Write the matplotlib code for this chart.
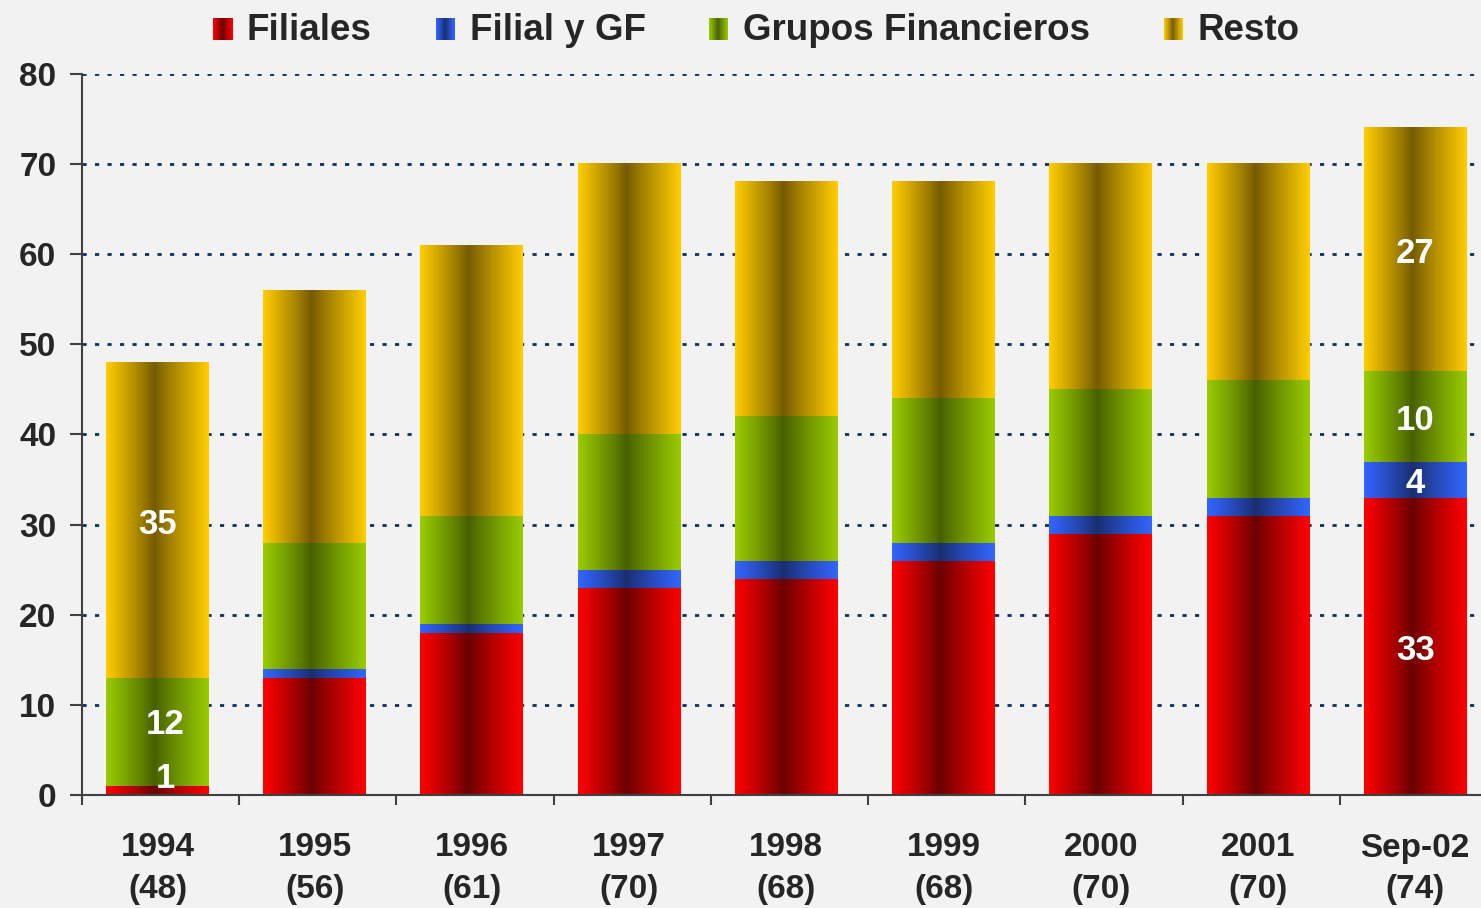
import numpy as np
import matplotlib
matplotlib.use('Agg')
import matplotlib.pyplot as plt
from matplotlib.colors import to_rgb

plt.rcParams['font.family'] = ['Liberation Sans', 'DejaVu Sans']
plt.rcParams['font.weight'] = 'bold'

# datos
anios = ['1994', '1995', '1996', '1997', '1998', '1999', '2000', '2001', 'Sep-02']
filiales = [1, 13, 18, 23, 24, 26, 29, 31, 33]
filial_gf = [0, 1, 1, 2, 2, 2, 2, 2, 4]
grupos = [12, 14, 12, 15, 16, 16, 14, 13, 10]
resto = [35, 28, 30, 30, 26, 24, 25, 24, 27]

nombres = ['Filiales', 'Filial y GF', 'Grupos Financieros', 'Resto']
valores = [filiales, filial_gf, grupos, resto]
# (color del borde, color del centro)
colores = [('#ff0000', '#6a0000'),
           ('#3366ff', '#1a2d6e'),
           ('#99cc00', '#465f00'),
           ('#ffcc00', '#735a00')]

fondo = '#f2f2f2'
gris = '#262626'


def degradado(borde, centro, n=80):
    t = np.linspace(0, 1, n)
    c0 = 0.47
    d = np.where(t < c0, (c0 - t) / c0, (t - c0) / (1 - c0))
    b = np.array(to_rgb(borde))
    c = np.array(to_rgb(centro))
    img = c + (b - c) * d[:, None] ** 0.9
    return img[None, :, :]


fig = plt.figure(figsize=(14.81, 9.08), dpi=100, facecolor=fondo)
ax = fig.add_axes([82 / 1481, 113 / 908, 1415 / 1481, 721 / 908])
ax.set_facecolor(fondo)

x = np.arange(len(anios)) - 0.02
base = np.zeros(len(anios))
barras = []
for nombre, vals, (cb, cc) in zip(nombres, valores, colores):
    b = ax.bar(x, vals, width=0.655, bottom=base, color='none', edgecolor='none', zorder=2)
    img = degradado(cb, cc)
    for p in b.patches:
        if p.get_height() <= 0:
            continue
        x0, y0 = p.get_xy()
        ax.imshow(img, extent=[x0, x0 + p.get_width(), y0, y0 + p.get_height()],
                  aspect='auto', interpolation='bilinear', zorder=2)
    barras.append((b, base.copy()))
    base = base + np.array(vals)

totales = base.astype(int)

ax.set_xlim(-0.5, 8.5)
ax.set_ylim(0, 80)

# etiquetas de datos
etq = dict(color='white', fontsize=25, ha='center', va='center', zorder=4)
bajar = 0.45
ax.text(x[0], barras[3][1][0] + resto[0] / 2 - bajar, str(resto[0]), **etq)
ax.text(x[0] + 0.05, barras[2][1][0] + grupos[0] / 2 + 1.3 - bajar, str(grupos[0]), **etq)
ax.text(x[0] + 0.05, barras[0][1][0] + 2.3 - bajar, str(filiales[0]), **etq)
i = len(anios) - 1
for k, vals in enumerate(valores):
    ax.text(x[i], barras[k][1][i] + vals[i] / 2 - bajar, str(vals[i]), **etq)

# ejes
ax.set_yticks(range(0, 81, 10))
ax.yaxis.grid(True, linestyle=(0, (1.5, 3.0)), color='#0a3260', linewidth=2.0)
ax.set_axisbelow(True)
ax.set_xticks(x)
ax.set_xticklabels([f'{a}\n({t})' for a, t in zip(anios, totales)], linespacing=1.45)
ax.set_xticks(np.arange(-0.5, 8.5, 1), minor=True)
ax.tick_params(axis='x', which='major', length=0, pad=27, labelsize=24, labelcolor=gris)
ax.tick_params(axis='x', which='minor', length=7, width=1.5, color='#404040', direction='out')
ax.tick_params(axis='y', length=8.5, width=1.5, color='#404040', pad=10, labelsize=24,
               labelcolor=gris)
for s in ['top', 'right']:
    ax.spines[s].set_visible(False)
for s in ['left', 'bottom']:
    ax.spines[s].set_color('#404040')
    ax.spines[s].set_linewidth(1.5)

# leyenda
pos_cuadro = [213, 436, 709, 1164]
pos_texto = [247, 470, 743, 1198]
for nombre, (cb, cc), xc, xt in zip(nombres, colores, pos_cuadro, pos_texto):
    la = fig.add_axes([xc / 1481, 1 - 40 / 908, 19 / 1481, 22 / 908])
    la.imshow(degradado(cb, cc), aspect='auto', interpolation='bilinear')
    la.axis('off')
    fig.text(xt / 1481, 1 - 31 / 908, nombre, fontsize=26.5, color=gris, va='center', ha='left')

fig.savefig('out.png', dpi=100, facecolor=fondo)
